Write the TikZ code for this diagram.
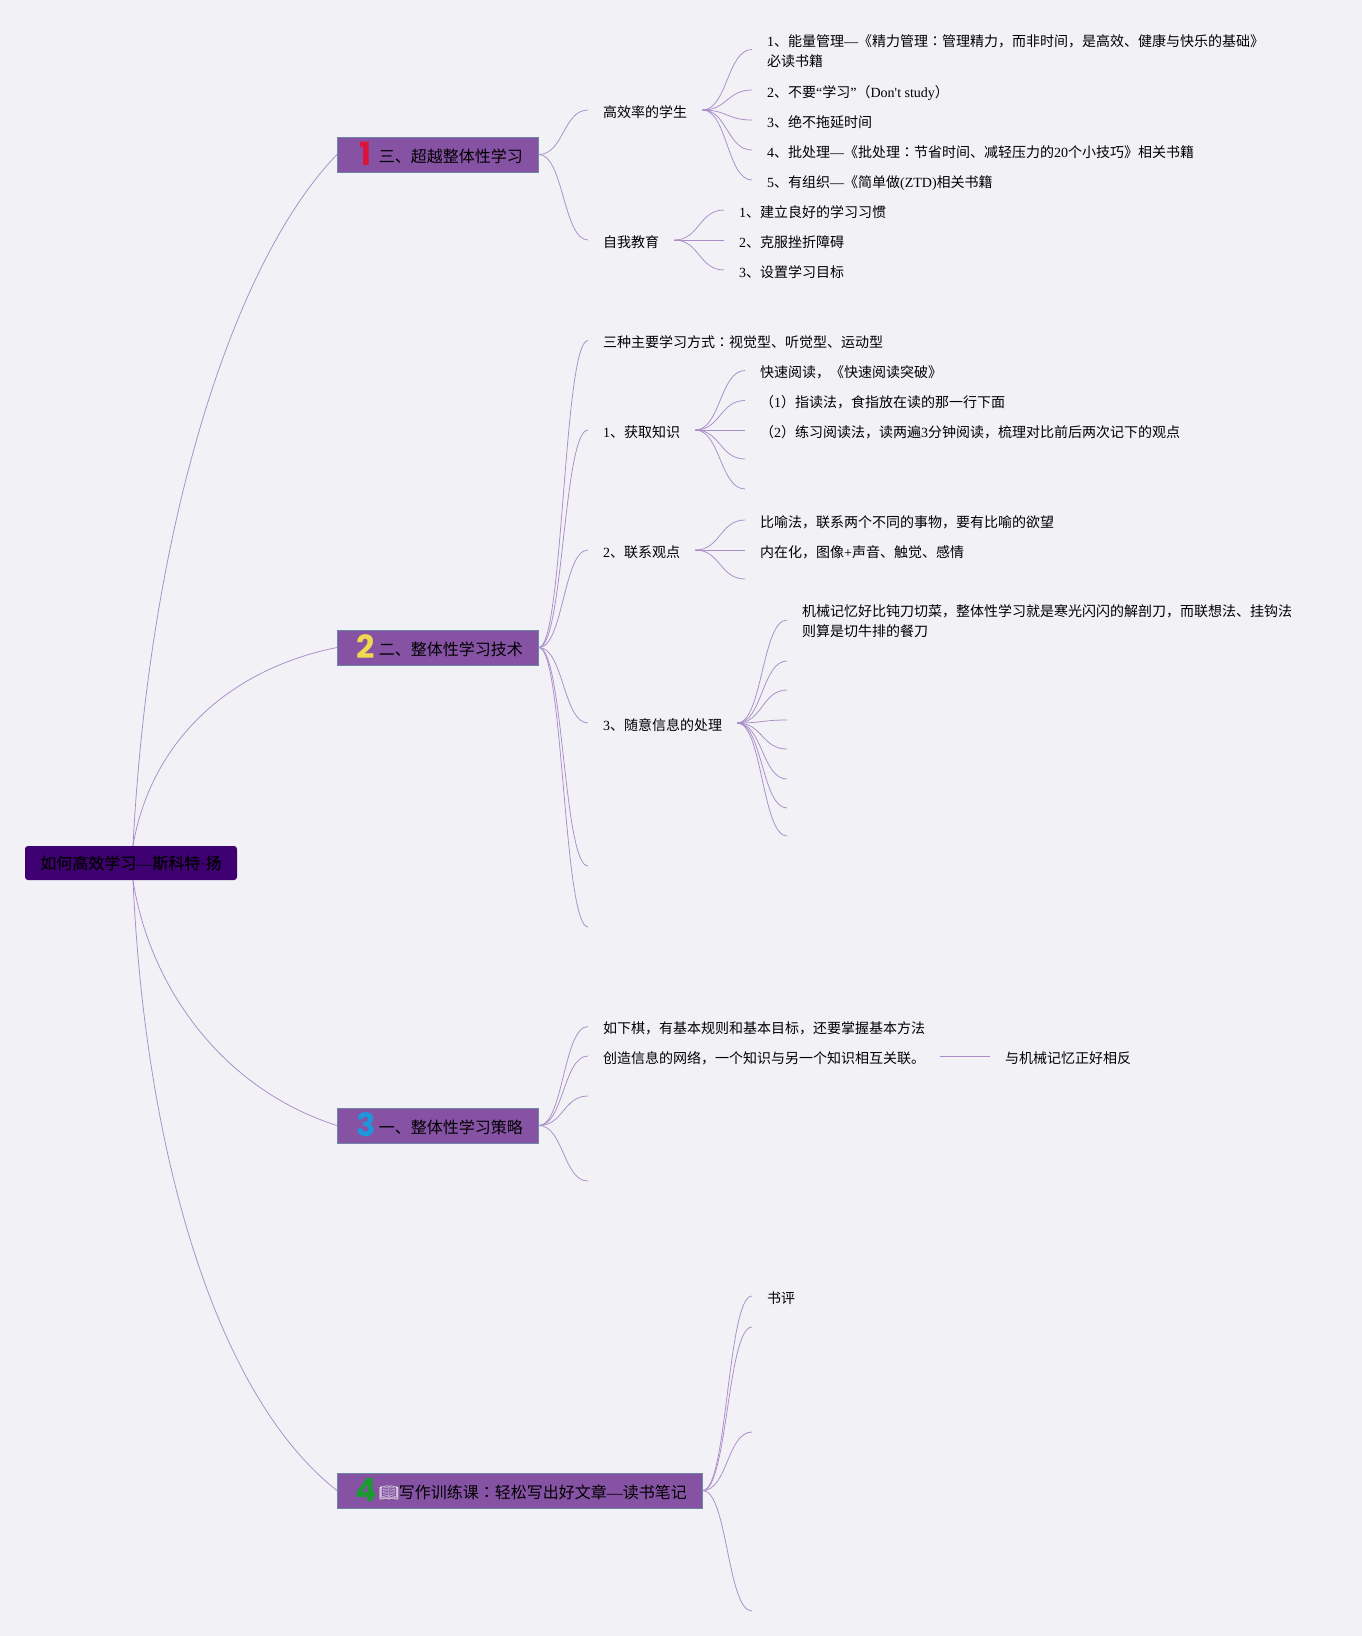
\documentclass[tikz,border=0pt]{standalone}
\usepackage{fontspec}
\setmainfont{Liberation Serif}
\newfontfamily\plainlatin{Liberation Serif}
\newfontfamily\cjk{Noto Sans CJK SC}
\newfontfamily\cjkcolon{Noto Sans CJK TC}
\newfontfamily\cjkroot[FakeBold=0.4]{Noto Sans CJK SC}
\newfontfamily\numfont{Poppins}
\newfontfamily\emojifont{Noto Emoji}
\usetikzlibrary{calc}
\definecolor{pagecol}{HTML}{F2F1F5}
\definecolor{stemcol}{HTML}{A98DC8}
\definecolor{rootcol}{HTML}{3F0071}
\definecolor{boxcol}{HTML}{8652A3}
\definecolor{boxline}{HTML}{6E85A3}
\definecolor{numred}{HTML}{DC143C}
\definecolor{numyellow}{HTML}{F0D850}
\definecolor{numblue}{HTML}{1E96DC}
\definecolor{numgreen}{HTML}{1A9A30}
\newcommand{\cn}[1]{{\cjk #1}}
\newcommand{\colonmark}{{\cjkcolon ：}}
\newcommand{\bignum}[2]{\makebox[26pt][c]{\raisebox{-3.5pt}{\color{#1}\numfont\bfseries\fontsize{32}{32}\selectfont #2}}}
\newcommand{\stem}[2]{
	\coordinate (mid) at ($(#1)!.5!(#2)$);
	\draw[stemline] (#1) .. controls (mid |- #1) and (mid |- #2) .. (#2);
}
\tikzset{
	stemline/.style={draw=stemcol, line width=0.75pt},
	rootbox/.style={fill=rootcol, rounded corners=3pt, minimum width=212pt, minimum height=34pt, inner sep=0pt, font=\fontsize{16}{20}\selectfont},
	mainbox/.style={anchor=west, fill=boxcol, draw=boxline, line width=0.8pt, minimum height=35pt, inner xsep=15.5pt, inner ysep=0pt, text height=15.6pt, text depth=0pt, font=\fontsize{16}{20}\selectfont},
	leaf/.style={anchor=west, inner xsep=15pt, inner ysep=0pt, text height=14pt, text depth=0pt, font=\fontsize{14}{20}\selectfont},
	twolines/.style={text height=, text depth=, align=left},
}
\begin{document}
\begin{tikzpicture}[x=1pt, y=-1pt]
	\fill[pagecol] (0,0) rectangle (1362,1636);
	\useasboundingbox (0,0) rectangle (1362,1636);

	\node[rootbox] (root) at (131,863) {{\cjkroot 如何高效学习}—{\cjkroot 斯科特}·{\cjkroot 扬}};
	\coordinate (roottop) at ([xshift=2pt]root.north);
	\coordinate (rootfoot) at ([xshift=2pt]root.south);

	\node[mainbox] (third) at (337,154.5) {\bignum{numred}{1}\cn{三、超越整体性学习}};
	\node[mainbox] (second) at (337,647.5) {\bignum{numyellow}{2}\cn{二、整体性学习技术}};
	\node[mainbox] (first) at (337,1125.5) {\bignum{numblue}{3}\cn{一、整体性学习策略}};
	\node[mainbox] (fourth) at (337,1490.5) {\bignum{numgreen}{4}\makebox[20pt][l]{\emojifont\color{black!8}📖}\cn{写作训练课\colonmark 轻松写出好文章}—\cn{读书笔记}};

	% root to the four main boxes
	\draw[stemline] (roottop) .. controls (150,520) and (235,260) .. (third.west);
	\draw[stemline] (roottop) .. controls (150,745) and (225,670) .. (second.west);
	\draw[stemline] (rootfoot) .. controls (150,990) and (225,1090) .. (first.west);
	\draw[stemline] (rootfoot) .. controls (145,1150) and (215,1395) .. (fourth.west);

	% third
	\node[leaf] (student) at (588,110) {\cn{高效率的学生}};
	\node[leaf] (self) at (588,240) {\cn{自我教育}};
	\node[leaf, twolines] (st1) at (752,51.5) {1\cn{、能量管理}—\cn{《精力管理\colonmark 管理精力，而非时间，是高效、健康与快乐的基础》}\\\cn{必读书籍}};
	\coordinate (st1end) at ([yshift=2pt]st1.west);
	\node[leaf] (st2) at (752,90) {2\cn{、不要}“\cn{学习}”\cn{（}{\plainlatin Don't study}\cn{）}};
	\node[leaf] (st3) at (752,120) {3\cn{、绝不拖延时间}};
	\node[leaf] (st4) at (752,150) {4\cn{、批处理}—\cn{《批处理\colonmark 节省时间、减轻压力的}20\cn{个小技巧》相关书籍}};
	\node[leaf] (st5) at (752,180) {5\cn{、有组织}—\cn{《简单做}(ZTD)\cn{相关书籍}};
	\node[leaf] (se1) at (724,210) {1\cn{、建立良好的学习习惯}};
	\node[leaf] (se2) at (724,240) {2\cn{、克服挫折障碍}};
	\node[leaf] (se3) at (724,270) {3\cn{、设置学习目标}};

	% second
	\node[leaf] (modes) at (588,340.5) {\cn{三种主要学习方式\colonmark 视觉型、听觉型、运动型}};
	\node[leaf] (gain) at (588,430) {1\cn{、获取知识}};
	\node[leaf] (link) at (588,550) {2\cn{、联系观点}};
	\node[leaf] (rand) at (588,723) {3\cn{、随意信息的处理}};
	\coordinate (sec5) at (588,866);
	\coordinate (sec6) at (588,927);

	\node[leaf] (ga1) at (745,370.5) {\cn{快速阅读，《快速阅读突破》}};
	\node[leaf] (ga2) at (745,400.5) {\cn{（}1\cn{）指读法，食指放在读的那一行下面}};
	\node[leaf] (ga3) at (745,430) {\cn{（}2\cn{）练习阅读法，读两遍}3\cn{分钟阅读，梳理对比前后两次记下的观点}};
	\coordinate (ga4) at (745,459);
	\coordinate (ga5) at (745,489);

	\node[leaf] (li1) at (745,520) {\cn{比喻法，联系两个不同的事物，要有比喻的欲望}};
	\node[leaf] (li2) at (745,550) {\cn{内在化，图像}+\cn{声音、触觉、感情}};
	\coordinate (li3) at (745,579);

	\node[leaf, twolines] (ra1) at (787,621.5) {\cn{机械记忆好比钝刀切菜，整体性学习就是寒光闪闪的解剖刀，而联想法、挂钩法}\\\cn{则算是切牛排的餐刀}};
	\coordinate (ra1end) at ([yshift=1.5pt]ra1.west);
	\foreach \n/\y in {2/661, 3/690, 4/720, 5/749, 6/779, 7/808, 8/836}
		\coordinate (ra\n) at (787,\y);

	% first
	\node[leaf] (chess) at (588,1026.5) {\cn{如下棋，有基本规则和基本目标，还要掌握基本方法}};
	\node[leaf] (net) at (588,1056) {\cn{创造信息的网络，一个知识与另一个知识相互关联。}};
	\node[leaf] (opposite) at (990,1056) {\cn{与机械记忆正好相反}};
	\coordinate (fi3) at (588,1096);
	\coordinate (fi4) at (588,1181);
	\draw[stemline] (net.east) -- (opposite.west);

	% fourth
	\node[leaf] (review) at (752,1296) {\cn{书评}};
	\coordinate (fo2) at (752,1327);
	\coordinate (fo3) at (752,1432);
	\coordinate (fo4) at (752,1611);

	\foreach \a/\b in {third/student.west, third/self.west,
		student/st1end, student/st2.west, student/st3.west, student/st4.west, student/st5.west,
		self/se1.west, self/se2.west, self/se3.west,
		second/modes.west, second/gain.west, second/link.west, second/rand.west, second/sec5, second/sec6,
		gain/ga1.west, gain/ga2.west, gain/ga3.west, gain/ga4, gain/ga5,
		link/li1.west, link/li2.west, link/li3,
		rand/ra1end, rand/ra2, rand/ra3, rand/ra4, rand/ra5, rand/ra6, rand/ra7, rand/ra8,
		first/chess.west, first/net.west, first/fi3, first/fi4,
		fourth/review.west, fourth/fo2, fourth/fo3, fourth/fo4}
		{\stem{\a.east}{\b}}
\end{tikzpicture}
\end{document}
